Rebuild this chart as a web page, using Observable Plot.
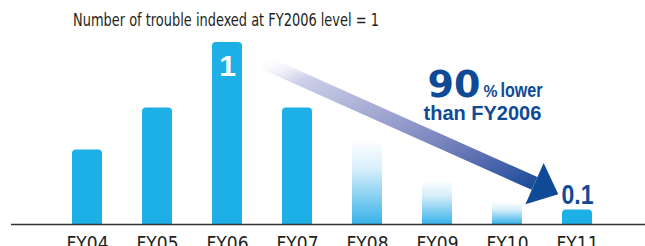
<!DOCTYPE html>
<html>
<head>
<meta charset="utf-8">
<script src="https://cdn.jsdelivr.net/npm/d3@7"></script>
<script src="https://cdn.jsdelivr.net/npm/@observablehq/plot@0.6"></script>
<style>
  html, body { margin: 0; padding: 0; background: #fff; }
  #wrap { width: 645px; height: 246px; overflow: hidden; position: relative; }
  #title { height: 36px; box-sizing: border-box; padding: 10px 0 0 73px; font-family: "DejaVu Sans Condensed", "Liberation Sans", sans-serif; font-size: 18px; line-height: 20px; color: #231f20; white-space: nowrap; }
  #title span { display: inline-block; transform: scaleX(0.8); transform-origin: 0 50%; }
  svg { display: block; }
</style>
</head>
<body>
<div id="wrap">
  <div id="title"><span>Number of trouble indexed at FY2006 level = 1</span></div>
  <div id="chart"></div>
</div>
<script>
// ---- data ----
const categories = ["FY04", "FY05", "FY06", "FY07", "FY08", "FY09", "FY10", "FY11"];
const values = [0.41, 0.64, 1.0, 0.64, 0.46, 0.24, 0.12, 0.08];
const fadedYears = ["FY08", "FY09", "FY10"];
const baseYear = ["FY06"];
const baseLabel = ["1"];
const lastYear = ["FY11"];
const lastLabel = ["0.1"];
const noteYear = ["FY09"];
const noteBig = ["90"];
const notePct = ["%"];
const noteLower = ["lower"];
const noteLine2 = ["than FY2006"];
const noteValues = [0.698, 0.572];
const arrowFrom = ["FY06", 0.98];
const arrowTo = ["FY11", 0.12];

const rows = categories.map((c, i) => ({year: c, value: values[i]}));
const solidRows = rows.filter(d => !fadedYears.includes(d.year));
const fadedRows = rows.filter(d => fadedYears.includes(d.year));

const BLUE = "#1db0e6";
const NAVY = "#0f4a96";
const FONT = "'DejaVu Sans Condensed', 'Liberation Sans', sans-serif";
const ARIAL = "'Liberation Sans', Arial, sans-serif";

function defs() {
  const ns = "http://www.w3.org/2000/svg";
  const d = document.createElementNS(ns, "defs");
  function grad(id, x2, y2, stops) {
    const g = document.createElementNS(ns, "linearGradient");
    g.setAttribute("id", id);
    g.setAttribute("x1", 0); g.setAttribute("y1", 0);
    g.setAttribute("x2", x2); g.setAttribute("y2", y2);
    for (const [o, c, a] of stops) {
      const s = document.createElementNS(ns, "stop");
      s.setAttribute("offset", o);
      s.setAttribute("stop-color", c);
      s.setAttribute("stop-opacity", a);
      g.appendChild(s);
    }
    d.appendChild(g);
  }
  grad("fade", 0, 1, [[0, "#ffffff", 1], [0.35, "#d6eefa", 1], [1, "#38b2ea", 1]]);
  grad("arrowGrad", 1, 1, [[0, "#ffffff", 0], [0.16, "#cdd0e8", 1], [0.52, "#949bcb", 1], [0.77, "#6272b3", 1], [1, "#1e4e9b", 1]]);
  return d;
}

const headSymbol = {
  draw(ctx) {
    ctx.moveTo(-21, 0);
    ctx.lineTo(-47, -22.5);
    ctx.lineTo(-47, 22.5);
    ctx.closePath();
  }
};

const angle = 23.9;

const chart = Plot.plot({
  width: 645,
  height: 210,
  marginLeft: 11,
  marginRight: 0,
  marginTop: 6,
  marginBottom: 22,
  x: {domain: categories, paddingInner: 0.572, paddingOuter: 0.808, align: 0.534, label: null},
  y: {domain: [0, 1], axis: null},
  style: {fontFamily: FONT, background: "white", color: "#231f20", overflow: "hidden"},
  marks: [
    defs,
    Plot.barY(solidRows, {x: "year", y: "value", fill: BLUE, rx: 4, insetBottom: -8, clip: true}),
    Plot.barY(fadedRows, {x: "year", y: "value", fill: "url(#fade)", clip: true}),
    Plot.ruleY([0], {stroke: "#333333", strokeWidth: 1.4}),
    Plot.axisX({tickSize: 0, tickPadding: 11, fontSize: 20, fill: "#231f20", label: null}),
    Plot.arrow([0], {
      x1: () => arrowFrom[0], y1: () => arrowFrom[1],
      x2: () => arrowTo[0], y2: () => arrowTo[1],
      stroke: "url(#arrowGrad)", strokeWidth: 14, headLength: 0,
      insetStart: 33, insetEnd: 47, strokeLinecap: "butt"
    }),
    Plot.dot([0], {
      x: () => arrowTo[0], y: () => arrowTo[1],
      symbol: headSymbol, fill: NAVY, stroke: "none", rotate: angle, r: 10
    }),
    Plot.text(baseLabel, {
      x: () => baseYear[0], y: () => values[categories.indexOf(baseYear[0])], text: d => d,
      fill: "white", fontSize: 30, fontWeight: "bold", fontFamily: ARIAL,
      lineAnchor: "bottom", dy: 33
    }),
    Plot.text(lastLabel, {
      x: () => lastYear[0], y: () => values[categories.indexOf(lastYear[0])], text: d => d,
      fill: NAVY, fontSize: 28, fontWeight: "bold", fontFamily: ARIAL,
      lineAnchor: "bottom", dy: -6
    }),
    Plot.text(noteBig, {
      x: () => noteYear[0], y: () => noteValues[0], text: d => d,
      fill: NAVY, fontSize: 38, fontWeight: "bold", fontFamily: "'DejaVu Sans', sans-serif",
      textAnchor: "end", lineAnchor: "bottom", dx: 43
    }),
    Plot.text(notePct, {
      x: () => noteYear[0], y: () => noteValues[0], text: d => d,
      fill: NAVY, fontSize: 17, fontWeight: "bold", fontFamily: ARIAL,
      textAnchor: "start", lineAnchor: "bottom", dx: 46
    }),
    Plot.text(noteLower, {
      x: () => noteYear[0], y: () => noteValues[0], text: d => d,
      fill: NAVY, fontSize: 21, fontWeight: "bold", fontFamily: ARIAL,
      textAnchor: "start", lineAnchor: "bottom", dx: 63
    }),
    Plot.text(noteLine2, {
      x: () => noteYear[0], y: () => noteValues[1], text: d => d,
      fill: NAVY, fontSize: 20, fontWeight: "bold", fontFamily: ARIAL,
      textAnchor: "start", lineAnchor: "bottom", dx: -14
    })
  ]
});

// squeeze a few condensed labels to the widths seen in the reference
const fitWidths = {"lower": 42, "%": 14, "0.1": 32};
d3.select(chart).selectAll("text").each(function() {
  const t = this.textContent;
  if (this.childElementCount === 0 && fitWidths[t]) {
    this.setAttribute("textLength", fitWidths[t]);
    this.setAttribute("lengthAdjust", "spacingAndGlyphs");
  }
});
d3.select(chart).selectAll("g[aria-label='x-axis tick label'] text").each(function() {
  this.setAttribute("textLength", 42);
  this.setAttribute("lengthAdjust", "spacingAndGlyphs");
});
document.getElementById("chart").appendChild(chart);
</script>
</body>
</html>
